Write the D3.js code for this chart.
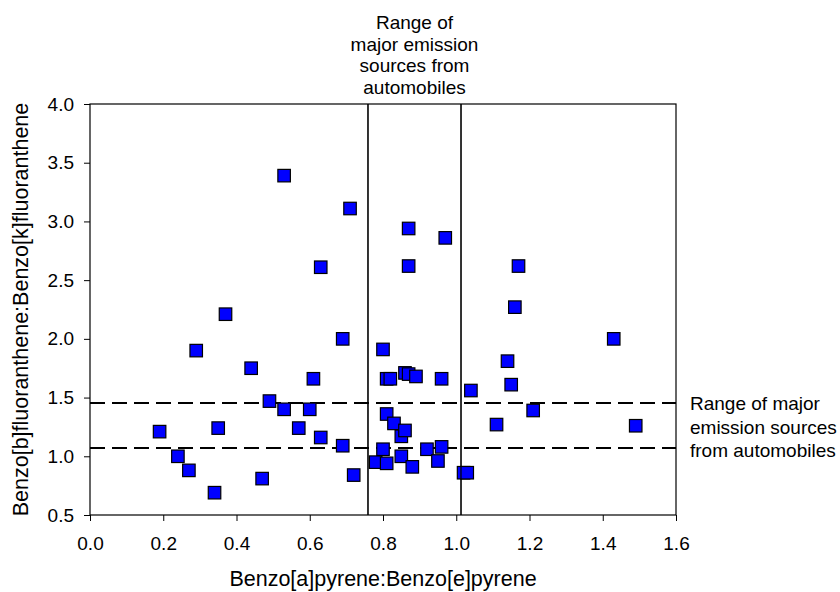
<!DOCTYPE html>
<html><head><meta charset="utf-8">
<script src="https://cdn.jsdelivr.net/npm/d3@7"></script>
<style>body{margin:0;background:#fff;} svg{display:block;font-family:"Liberation Sans",Arial,sans-serif;}</style>
</head><body>
<script>
const bapBep = [0.19,0.24,0.27,0.29,0.34,0.35,0.37,0.44,0.47,0.49,0.53,0.53,0.57,0.60,0.61,0.63,0.63,0.69,0.69,0.71,0.72,
  0.78,0.80,0.80,0.81,0.82,0.81,0.81,0.83,0.85,0.86,0.85,0.86,0.87,0.87,0.87,0.88,0.89,0.92,0.95,0.96,0.96,0.97,
  1.02,1.03,1.04,1.11,1.14,1.15,1.16,1.17,1.21,1.43,1.49];
const bbfBkf = [1.21,1.00,0.88,1.90,0.69,1.24,2.21,1.75,0.81,1.47,1.40,3.39,1.24,1.40,1.66,1.16,2.61,2.00,1.09,3.11,0.84,
  0.95,1.91,1.06,1.66,1.66,1.36,0.94,1.28,1.17,1.22,1.00,1.71,1.70,2.94,2.62,0.91,1.68,1.06,0.96,1.08,1.66,2.86,
  0.86,0.86,1.56,1.27,1.81,1.61,2.27,2.62,1.39,2.00,1.26];
const xTicks = [0.0,0.2,0.4,0.6,0.8,1.0,1.2,1.4,1.6];
const yTicks = [0.5,1.0,1.5,2.0,2.5,3.0,3.5,4.0];
const autoX = [0.759, 1.013];
const autoY = [1.07, 1.454];
const topNote = ["Range of","major emission","sources from","automobiles"];
const sideNote = ["Range of major","emission sources","from automobiles"];

const W=840,H=592, L=90,R=676,T=104,B=515;
const svg=d3.select("body").append("svg").attr("width",W).attr("height",H);
const x=d3.scaleLinear().domain([0,1.6]).range([L,R]);
const y=d3.scaleLinear().domain([0.5,4.0]).range([B,T]);

svg.append("g").attr("transform",`translate(0,${B})`)
  .call(d3.axisBottom(x).tickValues(xTicks).tickFormat(d3.format(".1f")).tickSize(6).tickSizeOuter(0))
  .call(g=>{g.select(".domain").remove();g.selectAll("line").attr("stroke","#000");
    g.selectAll("text").attr("font-size",19).attr("fill","#000").attr("dy","1.35em").attr("font-family","Liberation Sans, Arial, sans-serif");});
svg.append("g").attr("transform",`translate(${L},0)`)
  .call(d3.axisLeft(y).tickValues(yTicks).tickFormat(d3.format(".1f")).tickSize(6).tickSizeOuter(0))
  .call(g=>{g.select(".domain").remove();g.selectAll("line").attr("stroke","#000");
    g.selectAll("text").attr("font-size",19).attr("fill","#000").attr("x",-16).attr("font-family","Liberation Sans, Arial, sans-serif");});

svg.append("rect").attr("x",L).attr("y",T).attr("width",R-L).attr("height",B-T)
  .attr("fill","none").attr("stroke","#000").attr("stroke-width",1.2);

svg.selectAll("line.v").data(autoX).enter().append("line")
  .attr("x1",d=>x(d)).attr("x2",d=>x(d)).attr("y1",T).attr("y2",B)
  .attr("stroke","#000").attr("stroke-width",1.6);
svg.selectAll("line.h").data(autoY).enter().append("line")
  .attr("x1",L).attr("x2",R).attr("y1",d=>y(d)).attr("y2",d=>y(d))
  .attr("stroke","#000").attr("stroke-width",2).attr("stroke-dasharray","15,7");

const pts=bapBep.map((v,i)=>[v,bbfBkf[i]]);
const s=12.5;
svg.selectAll("rect.pt").data(pts).enter().append("rect")
  .attr("x",d=>x(d[0])-s/2).attr("y",d=>y(d[1])-s/2).attr("width",s).attr("height",s)
  .attr("fill","#0000ff").attr("stroke","#000").attr("stroke-width",1.2);

const cx=(x(autoX[0])+x(autoX[1]))/2;
svg.append("text").attr("text-anchor","middle").attr("font-size",19)
  .selectAll("tspan").data(topNote).enter().append("tspan")
  .attr("x",cx).attr("y",(d,i)=>29+i*21.7).text(d=>d);
svg.append("text").attr("text-anchor","start").attr("font-size",19)
  .selectAll("tspan").data(sideNote).enter().append("tspan")
  .attr("x",690).attr("y",(d,i)=>410+i*23.5).text(d=>d);

svg.append("text").attr("x",(L+R)/2).attr("y",586).attr("text-anchor","middle").attr("font-size",21.5)
  .text("Benzo[a]pyrene:Benzo[e]pyrene");
svg.append("text").attr("transform",`translate(28,${(T+B)/2}) rotate(-90)`).attr("text-anchor","middle").attr("font-size",21.5)
  .text("Benzo[b]fluoranthene:Benzo[k]fluoranthene");
</script>
</body></html>
